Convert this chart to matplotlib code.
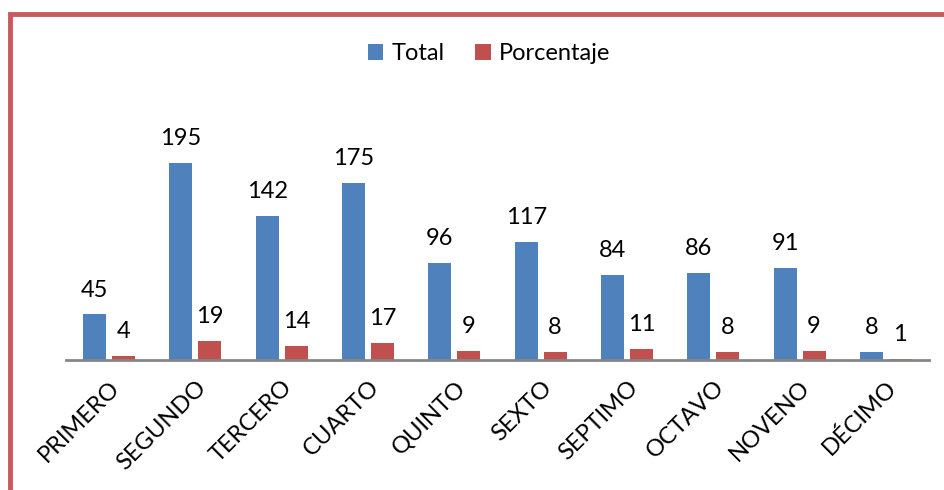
import matplotlib.pyplot as plt
import numpy as np
from matplotlib.lines import Line2D

categorias = ['PRIMERO', 'SEGUNDO', 'TERCERO', 'CUARTO', 'QUINTO',
              'SEXTO', 'SEPTIMO', 'OCTAVO', 'NOVENO', 'DÉCIMO']
total = [45, 195, 142, 175, 96, 117, 84, 86, 91, 8]
porcentaje = [4, 19, 14, 17, 9, 8, 11, 8, 9, 1]

plt.rcParams['font.family'] = ['Lato', 'DejaVu Sans']

fig = plt.figure(figsize=(9.44, 4.90), dpi=100)
ax = fig.add_axes([66 / 944, 1 - 360 / 490, (929 - 66) / 944, 255 / 490])

x = np.arange(len(categorias))
w = 0.267
b1 = ax.bar(x - 0.168, total, w, color='#4F81BD', label='Total')
b2 = ax.bar(x + 0.168, porcentaje, w, color='#C0504D', label='Porcentaje')

for bars, vals in ((b1, total), (b2, porcentaje)):
    for r, v in zip(bars, vals):
        ax.annotate(str(v), (r.get_x() + r.get_width() / 2, r.get_height()),
                    xytext=(0, 10), textcoords='offset points',
                    ha='center', va='bottom', fontsize=17)

ax.set_xlim(-0.5, len(categorias) - 0.5)
ax.set_ylim(0, 252)
ax.set_yticks([])
for s in ('top', 'right', 'left'):
    ax.spines[s].set_visible(False)
ax.spines['bottom'].set_color('#868686')
ax.spines['bottom'].set_linewidth(2)
ax.set_xticks(x)
ax.set_xticklabels(categorias, rotation=45, ha='right', va='top',
                   rotation_mode='anchor', fontsize=17)
ax.tick_params(axis='x', length=0, pad=12)

ax.legend(loc='center', bbox_to_anchor=(489 / 944, 1 - 54 / 490), ncol=2,
          frameon=False, fontsize=17, handlelength=0.65, handleheight=0.65,
          columnspacing=1.3, handletextpad=0.35, borderaxespad=0,
          bbox_transform=fig.transFigure)

fig.add_artist(Line2D([10 / 944, 10 / 944, 1], [0, 1 - 14 / 490, 1 - 14 / 490],
                      transform=fig.transFigure, color='#C85A5A', lw=3.5,
                      solid_joinstyle='miter'))

fig.savefig('out.png', dpi=100)
